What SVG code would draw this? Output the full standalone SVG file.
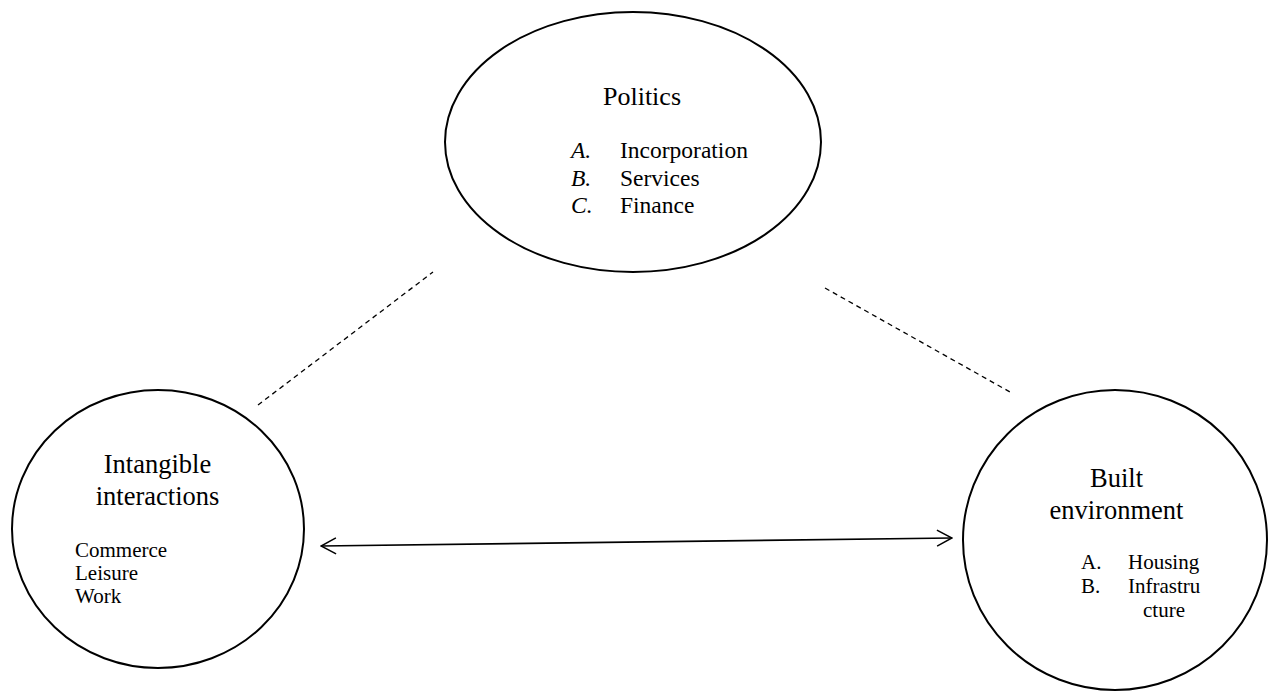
<svg xmlns="http://www.w3.org/2000/svg" width="1270" height="692" viewBox="0 0 1270 692">
<style>
.shape{fill:none;stroke:#000;stroke-width:2}
.t{font-family:"Liberation Serif","Times New Roman",serif;fill:#000}
.dash{stroke:#000;stroke-width:1.3;stroke-dasharray:5,4;fill:none}
.arr{stroke:#000;stroke-width:1.6;fill:none}
</style>
<defs>
<marker id="ah" viewBox="0 0 17 18" refX="16" refY="9" markerWidth="17" markerHeight="18" markerUnits="userSpaceOnUse" orient="auto-start-reverse">
<path d="M1,1 L16,9 L1,17" fill="none" stroke="#000" stroke-width="1.5"/>
</marker>
</defs>
<g id="politics">
<ellipse class="shape" cx="633" cy="142" rx="188" ry="130"/>
<text class="t" font-size="26" x="642" y="105" text-anchor="middle">Politics</text>
<g font-size="23.5">
<text class="t" x="571" y="158" font-style="italic">A.</text>
<text class="t" x="620" y="158">Incorporation</text>
<text class="t" x="571" y="185.5" font-style="italic">B.</text>
<text class="t" x="620" y="185.5">Services</text>
<text class="t" x="571" y="213" font-style="italic">C.</text>
<text class="t" x="620" y="213">Finance</text>
</g>
</g>
<g id="intangible">
<ellipse class="shape" cx="158" cy="529" rx="146" ry="139"/>
<text class="t" font-size="26.5" x="157.5" y="473" text-anchor="middle">Intangible</text>
<text class="t" font-size="26.5" x="157.5" y="505" text-anchor="middle">interactions</text>
<g font-size="21">
<text class="t" x="75" y="557">Commerce</text>
<text class="t" x="75" y="580">Leisure</text>
<text class="t" x="75" y="603">Work</text>
</g>
</g>
<g id="built">
<ellipse class="shape" cx="1115" cy="540" rx="152" ry="150"/>
<text class="t" font-size="26.5" x="1116.5" y="487" text-anchor="middle">Built</text>
<text class="t" font-size="26.5" x="1116.5" y="519" text-anchor="middle">environment</text>
<g font-size="21">
<text class="t" x="1081" y="569">A.</text>
<text class="t" x="1128" y="569">Housing</text>
<text class="t" x="1081" y="593">B.</text>
<text class="t" x="1128" y="593">Infrastru</text>
<text class="t" x="1143" y="617">cture</text>
</g>
</g>
<g id="connectors">
<line class="dash" x1="258" y1="405" x2="433" y2="272"/>
<line class="dash" x1="825" y1="288" x2="1010" y2="392"/>
<line class="arr" x1="321" y1="546" x2="952" y2="538" marker-start="url(#ah)" marker-end="url(#ah)"/>
</g>
</svg>
